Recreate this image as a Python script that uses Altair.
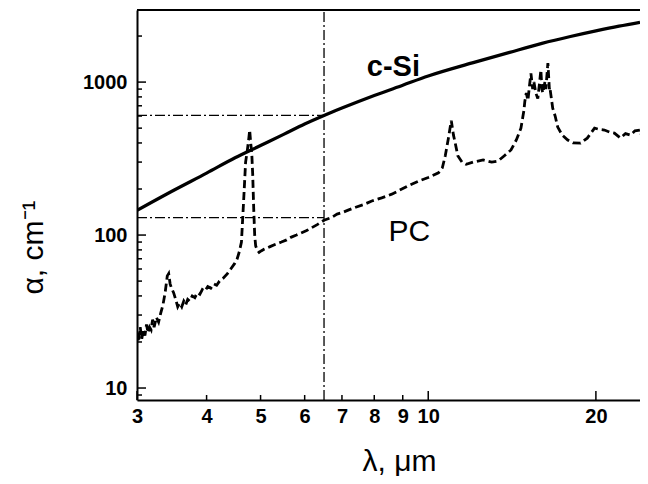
import altair as alt
import pandas as pd

# ---------------- data ----------------
csi_lambda = [3, 3.5, 4, 4.5, 5, 5.5, 6, 6.5, 7, 8, 9, 10, 12, 14, 16, 18, 20, 22, 24]
csi_alpha = [145, 197, 254, 320, 385, 455, 532, 605, 676, 817, 954, 1096, 1335, 1565,
             1790, 1985, 2160, 2320, 2460]

pc_lambda = [3.00, 3.02, 3.04, 3.06, 3.08, 3.10, 3.12, 3.14, 3.16, 3.18, 3.20, 3.22,
             3.25, 3.28, 3.31, 3.34, 3.37, 3.40, 3.42, 3.44, 3.46, 3.49, 3.52, 3.55,
             3.58, 3.61, 3.64, 3.67, 3.70, 3.73, 3.77, 3.81, 3.85, 3.89, 3.93, 3.97,
             4.02, 4.07, 4.12, 4.17, 4.22, 4.28, 4.36, 4.42, 4.49, 4.54, 4.58, 4.62,
             4.65, 4.68, 4.70, 4.73, 4.76, 4.78, 4.80, 4.82, 4.84, 4.86, 4.88, 4.90,
             4.93, 4.97, 5.02, 5.08, 5.20, 5.32, 5.45, 5.57, 5.68, 5.80, 5.91, 6.05,
             6.16, 6.32, 6.50, 6.70, 6.86, 7.00, 7.20, 7.41, 7.65, 7.92, 8.25, 8.60,
             8.85, 9.20, 9.60, 10.0, 10.43, 10.6, 10.73, 10.87, 11.00, 11.10, 11.18,
             11.3, 11.5, 11.70, 12.05, 12.55, 13.0, 13.35, 13.7, 14.08, 14.4, 14.67,
             14.85, 14.91, 15.0, 15.10, 15.2, 15.29, 15.4, 15.48, 15.6, 15.73, 15.85,
             15.93, 16.0, 16.06, 16.2, 16.26, 16.40, 16.5, 16.53, 16.73, 16.9, 17.08,
             17.4, 17.80, 18.2, 18.77, 19.3, 19.89, 20.3, 20.72, 21.2, 21.59, 22.13,
             22.6, 23.06, 23.5, 24.03, 24.2, 24.43]
pc_alpha = [23, 20, 25, 21, 24, 22, 26, 23, 25, 24, 28, 25,
            29, 27, 31, 35, 42, 54, 56, 48, 45, 42, 38, 34,
            36, 34, 37, 35, 38, 37, 40, 39, 42, 41, 44, 43,
            46, 45, 48, 47, 50, 52, 56, 60, 65, 70, 78, 90,
            140, 220, 300, 350, 420, 485, 400, 350, 250, 150, 100, 85,
            80, 77, 79, 81, 84, 87, 90, 93, 97, 100, 103, 107,
            111, 117, 125, 130, 137, 140, 146, 152, 158, 167, 175, 185,
            195, 210, 225, 238, 255, 275, 330, 430, 560, 450, 400,
            330, 300, 290, 300, 310, 300, 305, 330, 360, 420, 500,
            650, 750, 850, 760, 950, 1140, 900, 1000, 850, 780, 1000,
            1200, 900, 850, 1000, 900, 1330, 900, 927, 676, 600, 508,
            450, 418, 400, 399, 430, 500, 490, 486, 470, 464, 431,
            460, 450, 480, 486, 430, 540]

x_label_values = [3, 4, 5, 6, 7, 8, 9, 10, 20]
x_tick_major = [3, 10, 20]
x_tick_minor = [4, 5, 6, 7, 8, 9]
y_label_values = [10, 100, 1000]
y_tick_major = [10, 100, 1000]
y_tick_minor = [9, 20, 30, 40, 50, 60, 70, 80, 90,
                200, 300, 400, 500, 600, 700, 800, 900, 2000]

marker_lambda = 6.5
marker_alpha = [605, 130]

label_text = ["c-Si", "PC"]
label_lambda = [8.66, 9.25]
label_alpha = [1253, 105]

X_DOMAIN = [3, 24]
Y_DOMAIN = [8.35, 2960]
W, H = 503, 390

# ---------------- encodings ----------------
FONT = "Liberation Sans"
xs = alt.Scale(type="log", domain=X_DOMAIN)
ys = alt.Scale(type="log", domain=Y_DOMAIN)

x_axis = alt.Axis(values=x_label_values, format="d", title="λ, μm", ticks=False,
                  grid=False, labelFlush=False, labelOverlap=False, labelPadding=6,
                  titleX=262, titleY=61, titleBaseline="middle", titleAnchor="start",
                  titleAlign="center")
y_axis = alt.Axis(values=y_label_values, format="d", title="α, cm⁻¹", ticks=False,
                  grid=False, labelFlush=False, labelOverlap=False, labelPadding=10,
                  titleX=-104, titleY=237, titleBaseline="middle", titleAngle=270,
                  titleAlign="center", titleAnchor="start")

X = alt.X("lam:Q", scale=xs, axis=x_axis)
Y = alt.Y("a:Q", scale=ys, axis=y_axis)

csi_df = pd.DataFrame({"lam": csi_lambda, "a": csi_alpha})
pc_df = pd.DataFrame({"lam": pc_lambda, "a": pc_alpha})
hmark_df = pd.DataFrame({"lam": [X_DOMAIN[0]] * 2, "lam2": [marker_lambda] * 2,
                         "a": marker_alpha})
vmark_df = pd.DataFrame({"lam": [marker_lambda], "a": [Y_DOMAIN[0]], "a2": [Y_DOMAIN[1]]})
lbl_df = pd.DataFrame({"lam": label_lambda, "a": label_alpha, "t": label_text})

csi = alt.Chart(csi_df).mark_line(color="black", strokeWidth=3.2,
                                  interpolate="monotone", clip=True).encode(x=X, y=Y)
pc = alt.Chart(pc_df).mark_line(color="black", strokeWidth=2.8, strokeDash=[8, 4],
                                clip=True).encode(x=X, y=Y)
hmark = alt.Chart(hmark_df).mark_rule(color="black", strokeWidth=1.3,
                                      strokeDash=[10, 3, 2, 3]).encode(
    x=X, x2="lam2:Q", y=Y)
vmark = alt.Chart(vmark_df).mark_rule(color="black", strokeWidth=1.3,
                                      strokeDash=[10, 3, 2, 3]).encode(
    x=X, y=Y, y2="a2:Q")
csi_lbl = alt.Chart(lbl_df.iloc[[0]]).mark_text(font=FONT, fontSize=29, fontWeight="bold",
                                                 align="center", baseline="middle",
                                                 color="black").encode(x=X, y=Y, text="t:N")
pc_lbl = alt.Chart(lbl_df.iloc[[1]]).mark_text(font=FONT, fontSize=30, fontWeight="normal",
                                                align="center", baseline="middle",
                                                color="black").encode(x=X, y=Y, text="t:N")

xmaj = alt.Chart(pd.DataFrame({"lam": x_tick_major})).mark_rule(
    color="black", strokeWidth=1.5).encode(x=X, y=alt.value(H), y2=alt.value(H - 9))
xmin = alt.Chart(pd.DataFrame({"lam": x_tick_minor})).mark_rule(
    color="black", strokeWidth=1.5).encode(x=X, y=alt.value(H), y2=alt.value(H - 5))
ymaj = alt.Chart(pd.DataFrame({"a": y_tick_major})).mark_rule(
    color="black", strokeWidth=1.5).encode(y=Y, x=alt.value(0), x2=alt.value(9))
ymin = alt.Chart(pd.DataFrame({"a": y_tick_minor})).mark_rule(
    color="black", strokeWidth=1.5).encode(y=Y, x=alt.value(0), x2=alt.value(5))
top_frame = alt.Chart(pd.DataFrame({"d": [0]})).mark_rule(
    color="black", strokeWidth=2).encode(x=alt.value(0), x2=alt.value(W), y=alt.value(0))

chart = alt.layer(
    hmark, vmark, pc, csi, xmaj, xmin, ymaj, ymin, top_frame, csi_lbl, pc_lbl
).properties(
    width=W, height=H,
    autosize=alt.AutoSizeParams(type="none"),
    padding={"left": 129, "top": 2, "right": 0, "bottom": 76},
    background="white",
).configure_view(stroke=None).configure_axis(
    domainColor="black", domainWidth=2,
    labelFont=FONT, labelFontSize=20, labelFontWeight="bold", labelColor="black",
    titleFont=FONT, titleFontSize=30, titleFontWeight="normal", titleColor="black",
)

chart.save("out.html", embed_options={"renderer": "svg", "actions": False})
